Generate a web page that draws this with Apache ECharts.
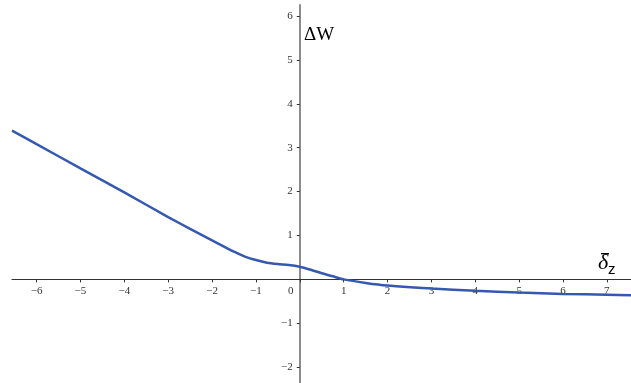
<!DOCTYPE html>
<html>
<head>
<meta charset="utf-8">
<script src="https://cdn.jsdelivr.net/npm/echarts@6/dist/echarts.min.js"></script>
<style>
html,body{margin:0;padding:0;background:#fff;}
#main{width:631px;height:383px;}
</style>
</head>
<body>
<div id="main"></div>
<script>
// 曲线采样点
var xVals = [-6.56, -6, -5, -4, -3, -2.5, -2, -1.5, -1.25, -1, -0.75, -0.5, -0.25, 0, 0.25, 0.5, 0.75, 1, 1.5, 2, 3, 4, 5, 6, 7, 7.55];
var yVals = [3.39, 3.08, 2.53, 1.98, 1.42, 1.15, 0.89, 0.63, 0.52, 0.44, 0.38, 0.35, 0.33, 0.29, 0.22, 0.14, 0.07, 0.0, -0.08, -0.14, -0.21, -0.26, -0.30, -0.33, -0.35, -0.36];
// 刻度
var xTicks = [-6, -5, -4, -3, -2, -1, 0, 1, 2, 3, 4, 5, 6, 7];
var yTicks = [-2, -1, 1, 2, 3, 4, 5, 6];

var pts = [];
for (var i = 0; i < xVals.length; i++) {
	pts.push([xVals[i], yVals[i]]);
}

function fmtNum(v){
	return String(v).replace('-', '\u2212');
}

// 坐标范围和网格
var W = 631, H = 383;
var gl = 12, gr = 0, gt = 5, gb = 0;
var xMin = -6.56, xMax = 7.55, yMin = -2.36, yMax = 6.25;
// 轴线移到原点处
var yOffset = -((0 - xMin) / (xMax - xMin) * (W - gl - gr));
var xOffset = -((0 - yMin) / (yMax - yMin) * (H - gt - gb));

var chart = echarts.init(document.getElementById('main'));
var option = {
	backgroundColor: '#fff',
	animation: false,
	grid: {left: gl, right: gr, top: gt, bottom: gb, containLabel: false, outerBoundsMode: 'none'},
	xAxis: {
		type: 'value',
		min: xMin,
		max: xMax,
		position: 'bottom',
		offset: xOffset,
		axisLine: {onZero: false, lineStyle: {color: '#333', width: 1.2}},
		axisTick: {show: true, length: 3, customValues: xTicks, lineStyle: {color: '#333'}},
		splitLine: {show: false},
		axisLabel: {
			customValues: xTicks,
			margin: 6,
			fontFamily: 'Liberation Serif',
			fontSize: 11,
			color: '#333',
			formatter: function(v){
				if (v === 0) return '{z|0}';
				return fmtNum(v);
			},
			rich: {
				z: {padding: [0, 18, 0, 0], fontFamily: 'Liberation Serif', fontSize: 11, color: '#333'}
			}
		}
	},
	yAxis: {
		type: 'value',
		min: yMin,
		max: yMax,
		position: 'left',
		offset: yOffset,
		axisLine: {onZero: false, lineStyle: {color: '#8c8c8c', width: 2}},
		axisTick: {show: true, length: 3, customValues: yTicks, lineStyle: {color: '#333'}},
		splitLine: {show: false},
		axisLabel: {
			customValues: yTicks,
			margin: 7,
			fontFamily: 'Liberation Serif',
			fontSize: 11,
			color: '#333',
			formatter: fmtNum
		}
	},
	graphic: [
		{
			type: 'text',
			left: 304,
			top: 26,
			style: {text: '\u0394W', font: '19px "Liberation Serif"', fill: '#000'}
		},
		{
			type: 'text',
			left: 598,
			top: 252,
			style: {text: '\u03b4', font: 'italic 22px "Liberation Serif"', fill: '#000'}
		},
		{
			type: 'rect',
			left: 601,
			top: 253,
			shape: {width: 8, height: 1.3},
			style: {fill: '#000'}
		},
		{
			type: 'text',
			left: 608,
			top: 262,
			style: {text: 'z', font: '15px "Liberation Sans"', fill: '#000'}
		}
	],
	series: [{
		type: 'line',
		data: pts,
		showSymbol: false,
		smooth: 0.25,
		lineStyle: {color: '#3558b0', width: 2.5},
		z: 5
	}]
};
chart.setOption(option);
</script>
</body>
</html>
